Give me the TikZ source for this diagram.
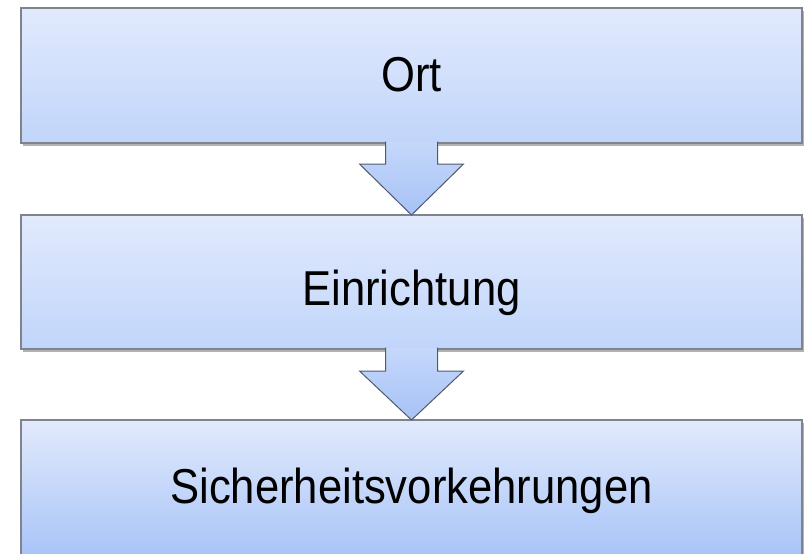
\documentclass[tikz,border=0pt]{standalone}
\usepackage{fontspec}
\setmainfont{Liberation Sans}
\newfontfamily\boxfont[FakeStretch=0.89]{Liberation Sans}
\usetikzlibrary{shadows,calc}
\definecolor{boxtop}{RGB}{226,234,252}
\definecolor{boxbotA}{RGB}{192,213,251}
\definecolor{boxbotC}{RGB}{162,192,247}
\definecolor{boxline}{RGB}{128,131,140}
\definecolor{arrtop}{RGB}{197,216,251}
\definecolor{arrbot}{RGB}{166,194,245}
\definecolor{arrline}{RGB}{80,90,107}
\begin{document}
\begin{tikzpicture}[x=1pt,y=-1pt,
  stage/.style={draw=boxline, line width=1.4pt, inner sep=0pt, outer sep=0pt,
    minimum width=781pt, top color=boxtop,
    drop shadow={shadow xshift=1.5pt, shadow yshift=-2.5pt, opacity=0.3, fill=black}},
  stagetext/.style={font=\boxfont\fontsize{49}{55}\selectfont, anchor=base, inner sep=0pt},
  flowarrow/.style={draw=arrline, line width=1pt, line join=miter,
    top color=arrtop, bottom color=arrbot}
]
\clip (0,0) rectangle (804,554);
\fill[white] (0,0) rectangle (804,554);
\node[stage, bottom color=boxbotA, minimum height=135pt] (b1) at (411.5,75.5) {};
\node[stage, bottom color=boxbotA, minimum height=134pt] (b2) at (411.5,282) {};
\node[stage, bottom color=boxbotC, minimum height=150pt] (b3) at (411.5,495) {};
\node[stagetext] (t1) at (411.5,91) {Ort};
\node[stagetext] (t2) at (411.5,305) {Einrichtung};
\node[stagetext] (t3) at (411.5,503) {Sicherheitsvorkehrungen};
\draw[flowarrow] ($(b1.south)+(-26,-1.5)$) -- ($(b1.south)+(-26,21)$) -- ($(b1.south)+(-52,21)$)
  -- (b2.north) -- ($(b1.south)+(52,21)$) -- ($(b1.south)+(26,21)$) -- ($(b1.south)+(26,-1.5)$);
\draw[flowarrow] ($(b2.south)+(-26,-1.5)$) -- ($(b2.south)+(-26,22)$) -- ($(b2.south)+(-52,22)$)
  -- (b3.north) -- ($(b2.south)+(52,22)$) -- ($(b2.south)+(26,22)$) -- ($(b2.south)+(26,-1.5)$);
\end{tikzpicture}
\end{document}
